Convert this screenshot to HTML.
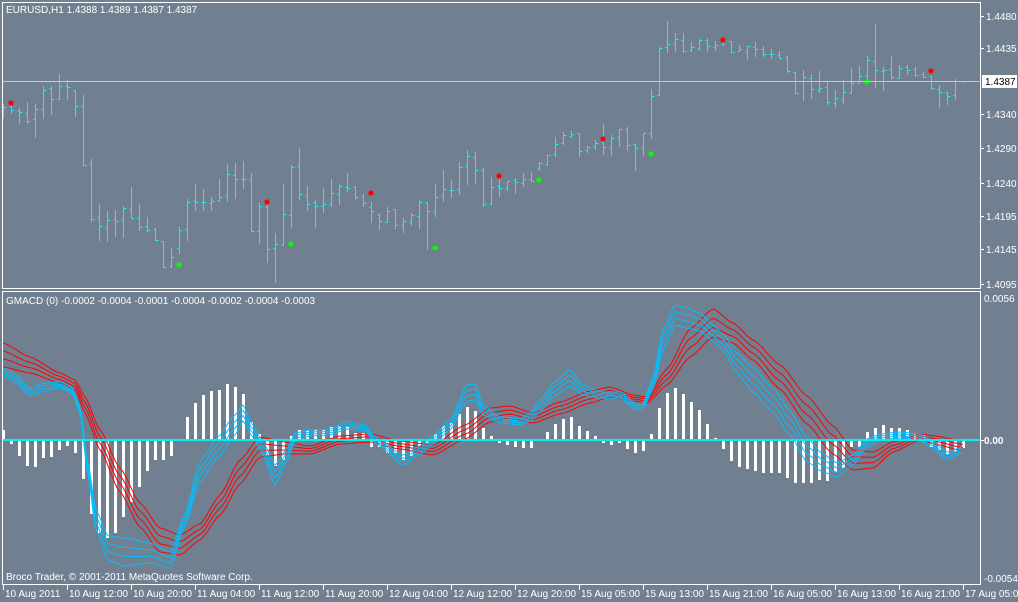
<!DOCTYPE html>
<html><head><meta charset="utf-8"><style>
html,body{margin:0;padding:0;background:#708090;}
svg{display:block;}
text{font-family:"Liberation Sans",sans-serif;font-size:10px;fill:#fff;}
</style></head><body>
<svg id="s" width="1018" height="602" xmlns="http://www.w3.org/2000/svg">
<rect x="0" y="0" width="1018" height="602" fill="#708090"/>
<g id="g"></g>
<rect x="2.5" y="2.5" width="978" height="286" fill="none" stroke="#fff" stroke-width="1"/>
<rect x="2.5" y="291.5" width="978" height="293" fill="none" stroke="#fff" stroke-width="1"/>
<line x1="3" y1="81.5" x2="980" y2="81.5" stroke="#c8c8c8" stroke-width="1"/>
<text x="6" y="13">EURUSD,H1  1.4388 1.4389 1.4387 1.4387</text>
<text x="6" y="304">GMACD  (0) -0.0002 -0.0004 -0.0001 -0.0004 -0.0002 -0.0004 -0.0003</text>
<text x="6" y="580">Broco Trader, © 2001-2011 MetaQuotes Software Corp.</text>
<g id="ax"></g>
<rect x="982" y="75" width="35" height="13" fill="#fff"/>
<text x="985" y="85" style="fill:#000">1.4387</text>
</svg>
<script>
var NS="http://www.w3.org/2000/svg",g=document.getElementById('g'),ax=document.getElementById('ax');
function el(p,t,a,txt){var e=document.createElementNS(NS,t);for(var k in a)e.setAttribute(k,a[k]);if(txt)e.textContent=txt;p.appendChild(e);return e;}
// histogram
var H=[430,444,456,466,467,458,457,450,446,453,479,514,533,538,533,517,502,487,471,460,460,456,439,417,403,395,391,390,384,387,394,422,434,455,466,460,436,430,430,430,430,427,426,427,433,433,447,447,453,453,460,456,446,443,434,426,423,414,407,411,428,436,443,445,447,448,448,441,432,424,419,417,426,431,436,443,445,443,449,453,451,434,408,393,388,394,402,410,424,438,449,461,467,469,471,473,473,473,478,483,483,483,480,481,472,468,447,447,432,428,425,428,428,430,434,435,447,450,455,452,448];
for(var i=0;i<H.length;i++){var x=2+8*i,y=H[i];el(g,'rect',{x:x,y:Math.min(y,440),width:3,height:Math.max(1,Math.abs(y-440)),fill:'#fff'});}
// price bars [h,l,o,c]
var P=[[104,118,107,107],[106,113,106,110],[108,123,111,112],[102,123,113,121],[104,137,119,109],[86,118,109,90],[86,114,88,99],[74,99,99,86],[80,99,86,87],[90,116,90,106],[95,165,106,165],[159,221,164,219],[204,240,217,226],[211,241,227,220],[210,236,219,221],[206,237,220,208],[187,218,209,218],[204,230,218,227],[217,231,226,230],[228,240,229,240],[241,267,241,267],[248,267,266,257],[227,253,248,230],[199,240,229,202],[184,210,201,202],[189,210,202,202],[197,210,203,201],[179,201,200,197],[164,201,196,174],[163,198,175,179],[161,188,179,179],[173,231,179,231],[203,243,231,206],[205,262,207,249],[233,282,248,244],[184,245,245,214],[165,227,215,167],[148,199,166,194],[186,210,195,204],[200,227,202,206],[188,212,206,204],[179,206,204,193],[184,204,194,186],[173,191,187,188],[186,199,187,197],[194,206,196,203],[202,222,207,211],[213,229,215,221],[207,222,222,211],[209,228,209,225],[218,232,225,221],[213,225,222,215],[200,228,216,202],[202,249,202,211],[184,216,212,197],[170,201,195,189],[180,197,190,190],[162,194,189,167],[150,184,166,156],[152,183,157,170],[168,206,170,204],[177,204,204,187],[179,196,186,188],[181,190,188,181],[178,193,180,182],[173,186,183,179],[172,181,179,181],[162,170,168,163],[155,165,164,155],[137,156,154,144],[132,144,143,135],[131,137,136,134],[133,156,133,151],[146,152,150,147],[140,149,146,143],[124,154,142,147],[135,155,147,138],[129,146,137,129],[127,150,129,145],[144,170,144,148],[133,155,147,133],[89,138,133,96],[47,95,95,48],[21,52,47,44],[33,51,43,39],[33,52,40,51],[42,51,50,47],[39,50,48,40],[38,51,40,46],[41,50,47,45],[37,45,44,40],[41,52,41,52],[45,51,51,49],[46,59,51,46],[42,56,47,49],[46,56,49,54],[49,58,54,54],[51,58,55,58],[56,72,57,71],[72,93,72,93],[70,100,81,77],[74,98,78,89],[71,92,90,88],[81,104,87,102],[90,107,103,98],[80,103,99,92],[68,93,93,83],[66,83,83,76],[56,83,76,60],[24,87,61,70],[67,90,71,70],[56,79,69,77],[65,78,78,68],[65,74,67,70],[67,76,69,75],[72,77,74,77],[76,89,76,88],[85,107,89,92],[92,104,92,96],[79,99,95,81],[81,82,81,81]];
var C='#20e8f0';
for(var i=0;i<P.length;i++){var x=3.5+8*i,p=P[i];
el(g,'line',{x1:x,y1:p[0],x2:x,y2:p[1]+1,stroke:C,'stroke-width':1});
el(g,'line',{x1:x-2,y1:p[2]+.5,x2:x,y2:p[2]+.5,stroke:C,'stroke-width':1});
el(g,'line',{x1:x,y1:p[3]+.5,x2:x+3,y2:p[3]+.5,stroke:C,'stroke-width':1});}
// fractals
function mk(x,y,c){el(g,'rect',{x:x-2.5,y:y-1.5,width:5,height:3,fill:c});el(g,'rect',{x:x-1.5,y:y-2.5,width:3,height:5,fill:c});}
[[11,103],[267,202],[371,193],[499,176],[603,139],[723,40],[931,71]].forEach(function(a){mk(a[0],a[1],'#ff0000');});
[[179,265],[291,244],[435,248],[539,180],[651,154],[867,82]].forEach(function(a){mk(a[0],a[1],'#00ff00');});
// lines
function interp(K,x){for(var j=0;j<K.length-1;j++){if(x<=K[j+1][0]){var a=K[j],b=K[j+1],t=(x-a[0])/(b[0]-a[0]);var s=t*t*(3-2*t);t=(t+s)/2;return [a[1]+(b[1]-a[1])*t,a[2]+(b[2]-a[2])*t];}}var l=K[K.length-1];return [l[1],l[2]];}
function draw(K,col,ks){ks.forEach(function(k){var pts=[];for(var x=3;x<=964;x+=2){var v=interp(K,x);pts.push(x+','+(v[0]+k*v[1]).toFixed(1));}
el(g,'polyline',{points:pts.join(' '),fill:'none',stroke:col,'stroke-width':1});});}
var R=[[3,355,12],[30,365,8],[60,378,5],[75,385,5],[85,405,8],[100,440,10],[120,480,12],[140,515,12],[160,540,12],[180,545,10],[200,532,8],[220,505,10],[240,472,12],[260,447,10],[285,448,6],[310,450,4],[340,440,4],[370,438,4],[400,445,4],[433,450,5],[465,432,7],[490,415,7],[510,412,6],[533,418,5],[560,408,6],[590,397,6],[610,392,5],[633,398,3],[647,400,3],[667,377,8],[690,343,14],[713,323,14],[733,333,10],[753,350,10],[780,377,12],[807,410,14],[833,440,14],[853,460,10],[873,460,8],[893,447,5],[920,437,3],[935,440,4],[963,446,5]];
var B=[[3,372,4],[15,378,4],[30,392,4],[45,387,4],[60,385,3],[72,390,3],[80,410,3],[88,470,6],[96,520,10],[108,548,12],[125,552,14],[150,553,10],[170,560,8],[185,520,6],[200,472,10],[217,448,10],[235,425,10],[243,413,8],[252,430,6],[263,448,6],[275,475,10],[287,455,6],[295,437,4],[310,433,3],[330,432,3],[347,425,4],[365,428,3],[375,440,3],[403,460,5],[420,450,4],[433,440,4],[450,425,5],[467,393,8],[475,392,8],[483,410,5],[500,420,3],[520,422,3],[530,417,4],[543,403,6],[553,390,7],[570,378,8],[583,390,5],[600,395,3],[620,395,3],[637,407,3],[643,406,3],[653,383,6],[663,340,10],[675,315,10],[687,318,10],[700,322,9],[713,333,8],[723,342,8],[737,363,10],[753,380,12],[773,400,12],[790,423,12],[807,450,12],[823,463,9],[837,470,7],[853,460,5],[867,443,4],[880,437,3],[900,435,3],[920,437,3],[930,443,4],[947,456,4],[963,450,3]];
draw(R,'#ff0000',[-1,-0.33,0.33,1]);
draw(B,'#00bfff',[-1,-0.33,0.33,1]);
el(g,'line',{x1:3,y1:440,x2:980,y2:440,stroke:'#00f0f0','stroke-width':2});
// price axis
[[16,'1.4480'],[48,'1.4435'],[114,'1.4340'],[148,'1.4290'],[183,'1.4240'],[216,'1.4195'],[249,'1.4145'],[284,'1.4095']].forEach(function(a){
el(ax,'line',{x1:981,y1:a[0]+.5,x2:984,y2:a[0]+.5,stroke:'#fff'});el(ax,'text',{x:986,y:a[0]+4},a[1]);});
el(ax,'text',{x:984,y:302},'0.0056');el(ax,'text',{x:984,y:444,'font-weight':'bold'},'0.00');el(ax,'text',{x:984,y:582},'-0.0054');
el(ax,'line',{x1:981,y1:440.5,x2:984,y2:440.5,stroke:'#fff'});
var T=['10 Aug 2011','10 Aug 12:00','10 Aug 20:00','11 Aug 04:00','11 Aug 12:00','11 Aug 20:00','12 Aug 04:00','12 Aug 12:00','12 Aug 20:00','15 Aug 05:00','15 Aug 13:00','15 Aug 21:00','16 Aug 05:00','16 Aug 13:00','16 Aug 21:00','17 Aug 05:00'];
T.forEach(function(t,k){var x=3+64*k;el(ax,'line',{x1:x+.5,y1:585,x2:x+.5,y2:590,stroke:'#fff'});el(ax,'text',{x:x+2,y:597},t);});
</script>
</body></html>
